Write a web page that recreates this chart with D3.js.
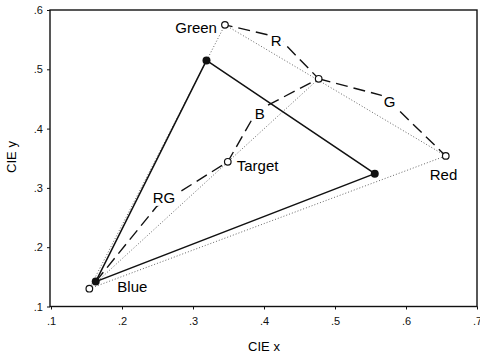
<!DOCTYPE html>
<html>
<head>
<meta charset="utf-8">
<script src="https://cdn.jsdelivr.net/npm/d3@7"></script>
<style>
  body { margin: 0; background: #fff; }
  svg { display: block; font-family: "Liberation Sans", Arial, sans-serif; }
  .tick text { font-size: 11px; fill: #111; }
  .axis path, .axis line { stroke: #111; }
</style>
</head>
<body>
<svg id="chart" width="480" height="355"></svg>
<script>
  // CIE chromaticity of the display primaries (open circles)
  const primaries = [
    { name: 'Green', x: 0.345, y: 0.575 },
    { name: 'Red', x: 0.656, y: 0.354 },
    { name: 'Blue', x: 0.154, y: 0.130 }
  ];
  const target = { name: 'Target', x: 0.349, y: 0.344 };
  const mixPoint = { x: 0.477, y: 0.484 };

  // matched primaries (filled circles)
  const matched = [
    { x: 0.319, y: 0.515 },
    { x: 0.556, y: 0.324 },
    { x: 0.163, y: 0.142 }
  ];

  // dashed adjustment paths
  const pathMain = [
    { x: 0.163, y: 0.142 },
    { x: 0.249, y: 0.269 },
    { x: 0.349, y: 0.344 },
    { x: 0.390, y: 0.430 },
    { x: 0.477, y: 0.484 },
    { x: 0.420, y: 0.554 },
    { x: 0.345, y: 0.575 }
  ];
  const pathRed = [
    { x: 0.477, y: 0.484 },
    { x: 0.569, y: 0.455 },
    { x: 0.656, y: 0.354 }
  ];
  const pathLabels = [
    { text: 'RG', x: 0.259, y: 0.284 },
    { text: 'B', x: 0.394, y: 0.425 },
    { text: 'R', x: 0.417, y: 0.549 },
    { text: 'G', x: 0.577, y: 0.445 }
  ];

  const xTicks = [0.1, 0.2, 0.3, 0.4, 0.5, 0.6, 0.7];
  const yTicks = [0.1, 0.2, 0.3, 0.4, 0.5, 0.6];

  const svg = d3.select('#chart');

  const scale = {};
  scale.x = d3.scaleLinear().domain([0.1, 0.7]).range([51, 477]);
  scale.y = d3.scaleLinear().domain([0.1, 0.6]).range([306.5, 10]);

  const tickFmt = d => d3.format('.1f')(d).replace(/^0/, '');

  // frame
  svg.append('rect')
    .attr('x', scale.x(0.1) - 1)
    .attr('y', scale.y(0.6))
    .attr('width', scale.x(0.7) - scale.x(0.1) + 1)
    .attr('height', scale.y(0.1) - scale.y(0.6))
    .attr('fill', 'none')
    .attr('stroke', '#111')
    .attr('stroke-width', 1.4);

  svg.append('g')
    .attr('class', 'axis')
    .attr('transform', `translate(0, ${scale.y(0.1)})`)
    .call(d3.axisBottom(scale.x).tickValues(xTicks).tickSize(3).tickPadding(8).tickFormat(tickFmt))
    .call(g => g.select('.domain').remove());

  svg.append('g')
    .attr('class', 'axis')
    .attr('transform', `translate(${scale.x(0.1) - 1}, 0)`)
    .call(d3.axisLeft(scale.y).tickValues(yTicks).tickSize(3).tickPadding(4).tickFormat(tickFmt))
    .call(g => g.select('.domain').remove());

  svg.append('text')
    .attr('x', 264).attr('y', 351)
    .attr('text-anchor', 'middle')
    .style('font-size', '13px')
    .text('CIE x');

  svg.append('text')
    .attr('transform', 'translate(16, 157) rotate(-90)')
    .attr('text-anchor', 'middle')
    .style('font-size', '13px')
    .text('CIE y');

  const line = d3.line().x(d => scale.x(d.x)).y(d => scale.y(d.y));

  // dotted gamut triangle and line through target
  svg.append('path')
    .attr('d', line([...primaries, primaries[0]]))
    .attr('fill', 'none')
    .attr('stroke', '#555')
    .attr('stroke-width', 0.9)
    .attr('stroke-dasharray', '1,2');

  svg.append('path')
    .attr('d', line([primaries[2], mixPoint]))
    .attr('fill', 'none')
    .attr('stroke', '#555')
    .attr('stroke-width', 0.9)
    .attr('stroke-dasharray', '1,2');

  // solid matched triangle
  svg.append('path')
    .attr('d', line([...matched, matched[0]]))
    .attr('fill', 'none')
    .attr('stroke', '#111')
    .attr('stroke-width', 1.5);

  // dashed paths
  [pathMain, pathRed].forEach(p => {
    svg.append('path')
      .attr('d', line(p))
      .attr('fill', 'none')
      .attr('stroke', '#111')
      .attr('stroke-width', 1.4)
      .attr('stroke-dasharray', '12,6');
  });

  // labels sitting on the dashed paths
  const lab = svg.append('g').style('font-size', '15px');
  pathLabels.forEach(d => {
    const t = lab.append('text')
      .attr('x', scale.x(d.x))
      .attr('y', scale.y(d.y) + 5.5)
      .attr('text-anchor', 'middle')
      .text(d.text);
    const bb = t.node().getBBox();
    lab.insert('rect', 'text')
      .attr('x', bb.x - 2).attr('y', bb.y)
      .attr('width', bb.width + 4).attr('height', bb.height)
      .attr('fill', '#fff');
  });

  // open circles
  svg.append('g').selectAll('circle')
    .data([...primaries, target, mixPoint])
    .join('circle')
    .attr('cx', d => scale.x(d.x))
    .attr('cy', d => scale.y(d.y))
    .attr('r', 3.3)
    .attr('fill', '#fff')
    .attr('stroke', '#111')
    .attr('stroke-width', 1.2);

  // filled circles
  svg.append('g').selectAll('circle')
    .data(matched)
    .join('circle')
    .attr('cx', d => scale.x(d.x))
    .attr('cy', d => scale.y(d.y))
    .attr('r', 4)
    .attr('fill', '#111');

  // point names
  const nameOffsets = {
    Green: { dx: -8, dy: 8, anchor: 'end' },
    Red: { dx: -16, dy: 24, anchor: 'start' },
    Blue: { dx: 28, dy: 3, anchor: 'start' },
    Target: { dx: 9, dy: 9, anchor: 'start' }
  };
  svg.append('g').style('font-size', '15px')
    .selectAll('text')
    .data([...primaries, target])
    .join('text')
    .attr('x', d => scale.x(d.x) + nameOffsets[d.name].dx)
    .attr('y', d => scale.y(d.y) + nameOffsets[d.name].dy)
    .attr('text-anchor', d => nameOffsets[d.name].anchor)
    .text(d => d.name);
</script>
</body>
</html>
